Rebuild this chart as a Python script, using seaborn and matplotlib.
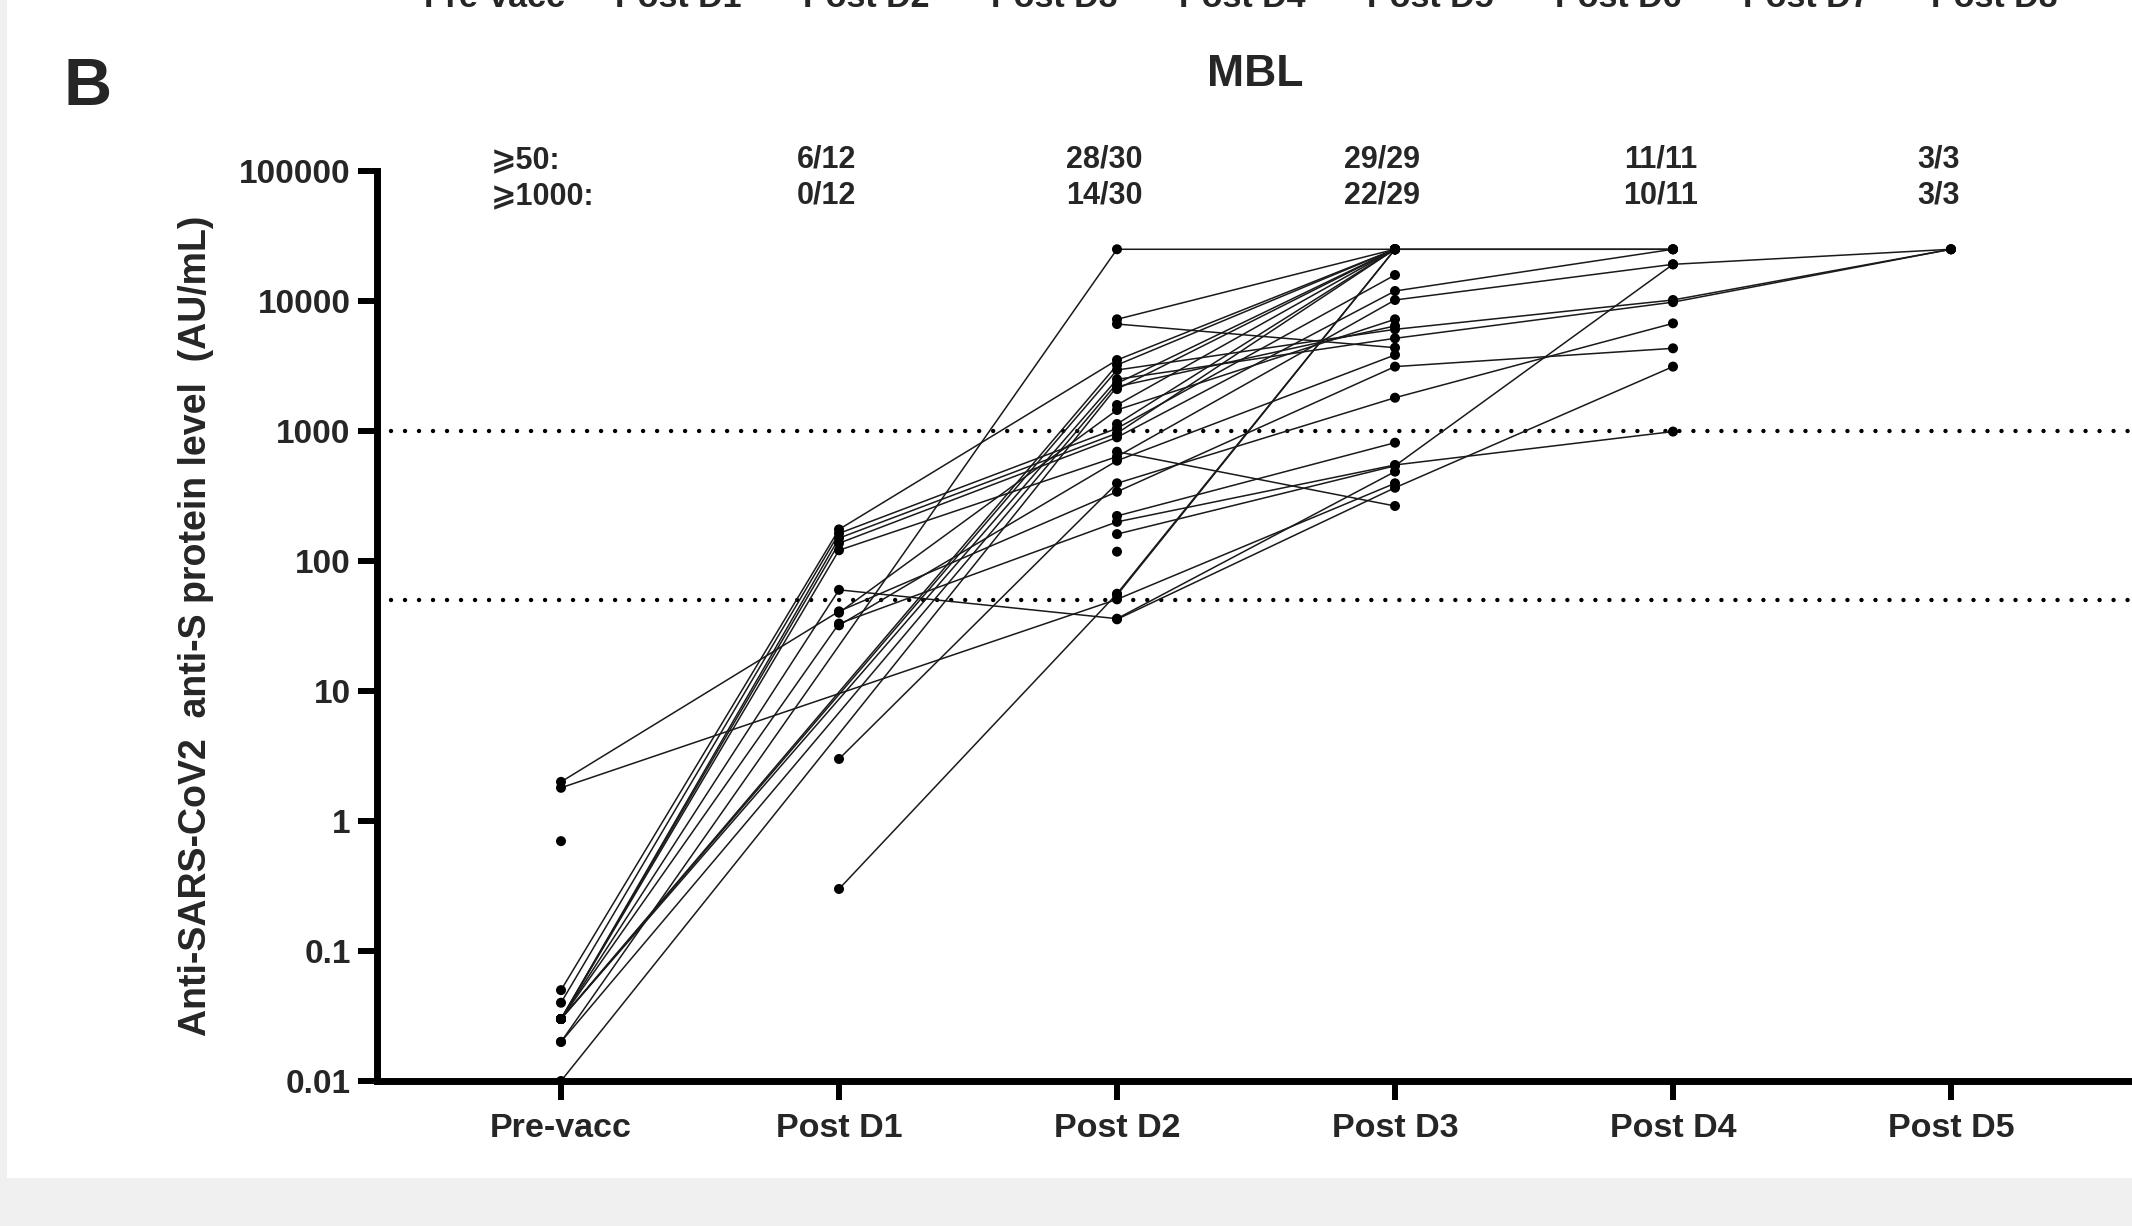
import matplotlib
matplotlib.use("Agg")
import matplotlib.pyplot as plt
from matplotlib.patches import Rectangle
import matplotlib.transforms as mtransforms
import numpy as np
import pandas as pd
import seaborn as sns

# ---------------- data ----------------
categories = ["Pre-vacc", "Post D1", "Post D2", "Post D3", "Post D4", "Post D5"]
N = None
# one entry per subject (same order in every list), None = not measured
pre_vacc = [0.05, 0.04, 0.03, 0.03, 0.03, 0.03, 2.0, 0.03, N, N, N, N, 1.8, 0.02, 0.02,
            0.03, 0.03, 0.01, 0.03, N, N, N, N, N, N, N, N, N, N, N, 0.7]
post_d1 = [175, 163, 150, 137, 121, 60, 41, 33, 40, 32, 3.0, 0.3, N, N, N,
           N, N, N, N, N, N, N, N, N, N, N, N, N, N, N, N]
post_d2 = [3515, 1049, 960, 894, 635, 36, 341, 200, 1451, 591, 396, 56, 50.7, 25000, 2326,
           3218, 2945, 2193, 2497, 7230, 6650, 2100, 1585, 1132, 693, 222, 161, 118, 54.7, 35.6, N]
post_d3 = [25000, 15849, 25000, 11940, 10180, 487, 3128, 548, 7230, 3846, 1803, 25000, 396, 25000, 25000,
           25000, 6053, 6423, 5163, 25000, 4375, 25000, 25000, 25000, 265, 813, 540, N, 25000, 366, N]
post_d4 = [25000, N, N, 25000, 19150, N, 4325, 990, N, N, 6730, N, N, 25000, N,
           N, 10180, N, 9800, N, N, N, N, N, N, N, 19150, N, N, 3128, N]
post_d5 = [N, N, N, N, 25000, N, N, N, N, N, N, N, N, N, N,
           N, 25000, N, 25000, N, N, N, N, N, N, N, N, N, N, N, N]

ge50_labels = ["6/12", "28/30", "29/29", "11/11", "3/3"]
ge1000_labels = ["0/12", "14/30", "22/29", "10/11", "3/3"]
thresholds = [50, 1000]
ytick_values = [0.01, 0.1, 1, 10, 100, 1000, 10000, 100000]
ytick_labels = ["0.01", "0.1", "1", "10", "100", "1000", "10000", "100000"]
prev_panel_labels = ["Pre-vacc", "Post D1", "Post D2", "Post D3", "Post D4",
                     "Post D5", "Post D6", "Post D7", "Post D8"]

# ---------------- long format ----------------
series = [pre_vacc, post_d1, post_d2, post_d3, post_d4, post_d5]
rows = []
for sid in range(len(pre_vacc)):
    for ti, s in enumerate(series):
        v = s[sid]
        if v is not None:
            rows.append({"subject": sid, "time": ti, "timepoint": categories[ti], "value": v})
df = pd.DataFrame(rows)

# ---------------- style ----------------
sns.set_theme(style="white")
plt.rcParams["font.family"] = ["Liberation Sans", "DejaVu Sans"]
plt.rcParams["font.weight"] = "bold"

W, H = 2132, 1226
fig = plt.figure(figsize=(W / 100, H / 100), dpi=100)
fig.patch.set_facecolor("white")
fig.patches.append(Rectangle((0, 0), 1, 48 / H, transform=fig.transFigure,
                             facecolor="#f0f0f0", edgecolor="none", zorder=0))
fig.patches.append(Rectangle((0, 0), 7 / W, 1, transform=fig.transFigure,
                             facecolor="#f0f0f0", edgecolor="none", zorder=0))

ax_left, ax_right = 377, W
ax_top, ax_bottom = 171, 1081
ax = fig.add_axes([ax_left / W, (H - ax_bottom) / H, (ax_right - ax_left) / W, (ax_bottom - ax_top) / H])
ax.set_facecolor("white")
ax.set_yscale("log")

sns.lineplot(data=df, x="time", y="value", units="subject", estimator=None, sort=False,
             color="#1a1a1a", lw=1.1, ax=ax, legend=False, zorder=2)
sns.scatterplot(data=df, x="time", y="value", color="black", s=52, edgecolor="none",
                ax=ax, legend=False, zorder=3)

for t in thresholds:
    ax.axhline(t, color="black", lw=3.2, linestyle=(0, (0.001, 3.15)),
               dash_capstyle="round", zorder=1)

ax.set_ylim(0.01, 100000)
ax.set_xlim(-(561 - ax_left) / 278, (W - 561) / 278)
ax.set_xticks(range(len(categories)))
ax.set_xticklabels(categories, fontsize=24.5, fontweight="bold")
ax.set_yticks(ytick_values)
ax.set_yticklabels(ytick_labels, fontsize=24, fontweight="bold")
ax.minorticks_off()
ax.set_xlabel("")
ax.set_ylabel("Anti-SARS-CoV2  anti-S protein level  (AU/mL)", fontsize=27, fontweight="bold")
ax.yaxis.set_label_coords(-(377 - 214) / (ax_right - ax_left), 0.5)

for sp in ["top", "right"]:
    ax.spines[sp].set_visible(False)
for sp in ["left", "bottom"]:
    ax.spines[sp].set_linewidth(5)
    ax.spines[sp].set_color("black")
    ax.spines[sp].set_zorder(5)
ax.tick_params(axis="both", which="major", direction="out", length=14, width=4.3,
               color="black", bottom=True, left=True)
ax.tick_params(axis="x", pad=9)
ax.tick_params(axis="y", pad=5)
ax.grid(False)

# counts above the plot
trans = mtransforms.blended_transform_factory(ax.transData, ax.transAxes)
y50 = (ax_bottom - 160) / (ax_bottom - ax_top)
y1000 = (ax_bottom - 196) / (ax_bottom - ax_top)
x_lab = (491 - 561) / 278
ax.text(x_lab, y50, "\u2a7e50:", transform=trans, ha="left", va="center",
        fontsize=22, fontweight="bold", clip_on=False)
ax.text(x_lab, y1000, "\u2a7e1000:", transform=trans, ha="left", va="center",
        fontsize=22, fontweight="bold", clip_on=False)
for i, (a, b) in enumerate(zip(ge50_labels, ge1000_labels)):
    ax.text(i + 1 - 0.045, y50, a, transform=trans, ha="center", va="center",
            fontsize=22, fontweight="bold", clip_on=False)
    ax.text(i + 1 - 0.045, y1000, b, transform=trans, ha="center", va="center",
            fontsize=22, fontweight="bold", clip_on=False)

fig.text(1255 / W, 1 - 75 / H, "MBL", ha="center", va="center", fontsize=32, fontweight="bold")
fig.text(64 / W, 1 - 105 / H, "B", ha="left", va="baseline", fontsize=48, fontweight="bold")

# cut-off tick labels of the panel above (only their lower part is inside the image)
prev_x = [495, 678, 866, 1054, 1242, 1430, 1618, 1806, 1994]
for px, lab in zip(prev_x, prev_panel_labels):
    fig.text(px / W, 1 - 7 / H, lab, ha="center", va="baseline", fontsize=24.5, fontweight="bold")

fig.savefig("out.png", dpi=100, facecolor=fig.get_facecolor())
